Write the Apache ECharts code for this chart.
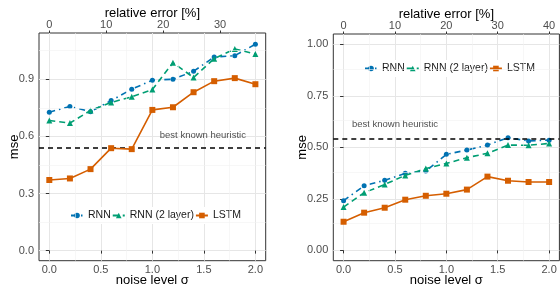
<!DOCTYPE html>
<html>
<head>
<meta charset="utf-8">
<script src="https://cdn.jsdelivr.net/npm/echarts@6/dist/echarts.min.js"></script>
<style>
html,body{margin:0;padding:0;background:#fff;}
#c{width:560px;height:285px;}
</style>
</head>
<body>
<div id="c"></div>
<script>
// ---- data ----
var noise = [0.0, 0.2, 0.4, 0.6, 0.8, 1.0, 1.2, 1.4, 1.6, 1.8, 2.0];
var seriesNames = ['RNN', 'RNN (2 layer)', 'LSTM'];
// left panel
var leftRNN   = [0.727, 0.757, 0.730, 0.788, 0.848, 0.895, 0.900, 0.942, 1.017, 1.024, 1.084];
var leftRNN2  = [0.683, 0.670, 0.736, 0.778, 0.808, 0.846, 0.987, 0.909, 1.008, 1.059, 1.033];
var leftLSTM  = [0.371, 0.379, 0.428, 0.538, 0.533, 0.739, 0.753, 0.832, 0.890, 0.906, 0.874];
var leftHeuristic = 0.544;
// right panel
var rightRNN  = [0.241, 0.314, 0.340, 0.374, 0.385, 0.466, 0.487, 0.511, 0.547, 0.531, 0.535];
var rightRNN2 = [0.210, 0.280, 0.320, 0.364, 0.397, 0.422, 0.450, 0.471, 0.511, 0.510, 0.519];
var rightLSTM = [0.139, 0.183, 0.207, 0.246, 0.265, 0.275, 0.295, 0.358, 0.338, 0.332, 0.332];
var rightHeuristic = 0.544;
// tick labels
var noiseTicks = [0, 0.5, 1.0, 1.5, 2.0];
var noiseMinor = [0.25, 0.75, 1.25, 1.75];
var leftYTicks = [0, 0.3, 0.6, 0.9];
var leftYMinor = [0.15, 0.45, 0.75, 1.05];
var rightYTicks = [0, 0.25, 0.5, 0.75, 1.0];
var rightYMinor = [0.125, 0.375, 0.625, 0.875];
var leftRelTicks = [0, 10, 20, 30];
var rightRelTicks = [0, 10, 20, 30, 40];
var heuristicText = 'best known heuristic';

// ---- styling ----
var FONT = '"Liberation Sans", Arial, Helvetica, sans-serif';
var COLORS = ['#0072B2', '#009E73', '#D55E00'];
var SYMBOLS = ['circle', 'triangle', 'rect'];
var SIZES = [5, 6, 6];
var DASH = [[6, 4, 1.5, 4], [6, 4], 'solid'];

function zip(xs, ys) { return xs.map(function (x, i) { return [x, ys[i]]; }); }

var leftRelMin = -0.1 * 18.1, leftRelMax = 2.1 * 18.1;
var rightRelMin = -2, rightRelMax = 42;

function bottomAxis(grid) {
  return {
    type: 'value', gridIndex: grid, position: 'bottom', min: -0.1, max: 2.1,
    name: 'noise level σ', nameLocation: 'middle', nameGap: 13, nameMoveOverlap: false,
    nameTextStyle: { fontFamily: FONT, fontSize: 13, color: '#000' },
    axisLine: { show: false },
    axisTick: { show: true, length: 3, lineStyle: { color: '#333' }, customValues: noiseTicks },
    axisLabel: { customValues: noiseTicks, margin: 4, fontFamily: FONT, fontSize: 11, color: '#4d4d4d',
      formatter: function (v) { return v.toFixed(1); } },
    splitLine: { show: true, lineStyle: { color: '#e6e6e6', width: 1 } }
  };
}
function topAxis(grid, mn, mx, ticks) {
  return {
    type: 'value', gridIndex: grid, position: 'top', min: mn, max: mx,
    name: 'relative error [%]', nameLocation: 'middle', nameGap: 13, nameMoveOverlap: false,
    nameTextStyle: { fontFamily: FONT, fontSize: 13, color: '#000' },
    axisLine: { show: false },
    axisTick: { show: true, length: 2.5, lineStyle: { color: '#333' }, customValues: ticks },
    axisLabel: { customValues: ticks, margin: 3, fontFamily: FONT, fontSize: 11, color: '#4d4d4d',
      formatter: function (v) { return String(Math.round(v)); } },
    splitLine: { show: false }
  };
}
function leftAxis(grid, mn, mx, ticks, dec, gap) {
  return {
    type: 'value', gridIndex: grid, min: mn, max: mx,
    name: 'mse', nameLocation: 'middle', nameGap: gap, nameRotate: 90, nameMoveOverlap: false,
    nameTextStyle: { fontFamily: FONT, fontSize: 13, color: '#000' },
    axisLine: { show: false },
    axisTick: { show: true, length: 3.5, lineStyle: { color: '#333' }, customValues: ticks },
    axisLabel: { customValues: ticks, margin: 5, fontFamily: FONT, fontSize: 11, color: '#4d4d4d',
      formatter: function (v) { return v.toFixed(dec); } },
    splitLine: { show: true, lineStyle: { color: '#e6e6e6', width: 1 } }
  };
}

function minorLines(xi, yi, xs, ys) {
  var data = [];
  xs.forEach(function (v) { data.push({ xAxis: v }); });
  ys.forEach(function (v) { data.push({ yAxis: v }); });
  return {
    type: 'line', xAxisIndex: xi, yAxisIndex: yi, data: [], silent: true, z: 0,
    markLine: { silent: true, symbol: 'none', label: { show: false },
      lineStyle: { color: '#f2f2f2', width: 0.6, type: 'solid' }, animation: false, data: data }
  };
}

function panelSeries(xi, yi, arrs, heur, labelPos) {
  var out = arrs.map(function (ys, k) {
    return {
      name: seriesNames[k], type: 'line', xAxisIndex: xi, yAxisIndex: yi,
      data: zip(noise, ys), symbol: SYMBOLS[k], symbolSize: SIZES[k], showSymbol: true,
      itemStyle: { color: COLORS[k] },
      lineStyle: { color: COLORS[k], width: 1.6, type: DASH[k] },
      z: 3 + k, animation: false
    };
  });
  out.push({
    name: 'heuristic', type: 'line', xAxisIndex: xi, yAxisIndex: yi, data: [], z: 2,
    markLine: { silent: true, symbol: 'none', label: { show: false }, animation: false,
      lineStyle: { color: '#000', width: 1.5, type: [5, 4] }, data: [{ yAxis: heur }] }
  });
  out.push({
    name: 'heuristicLabel', type: 'scatter', xAxisIndex: xi, yAxisIndex: yi,
    data: [labelPos], symbolSize: 0.1, itemStyle: { color: 'transparent' }, silent: true,
    label: { show: true, position: 'inside', formatter: heuristicText,
      fontFamily: FONT, fontSize: 9.5, color: '#1a1a1a' }, animation: false
  });
  return out;
}

var legendBase = {
  data: seriesNames, orient: 'horizontal', itemWidth: 12, itemHeight: 7, itemGap: 1,
  backgroundColor: '#fff', padding: [3, 4], selectedMode: false,
  textStyle: { fontFamily: FONT, fontSize: 10.5, color: '#1a1a1a' }
};

var option = {
  backgroundColor: '#fff',
  animation: false,
  grid: [
    { left: 39, right: 294.3, top: 33, bottom: 24.3, show: true, borderColor: '#333', borderWidth: 1, backgroundColor: '#fff', outerBoundsMode: 'none', containLabel: false },
    { left: 333.3, right: 0.6, top: 34, bottom: 24.3, show: true, borderColor: '#333', borderWidth: 1, backgroundColor: '#fff', outerBoundsMode: 'none', containLabel: false }
  ],
  xAxis: [
    bottomAxis(0), topAxis(0, leftRelMin, leftRelMax, leftRelTicks),
    bottomAxis(1), topAxis(1, rightRelMin, rightRelMax, rightRelTicks)
  ],
  yAxis: [
    leftAxis(0, -0.053, 1.143, leftYTicks, 1, 18),
    leftAxis(1, -0.05, 1.05, rightYTicks, 2, 24)
  ],
  legend: [
    Object.assign({}, legendBase, { left: 66, top: 207 }),
    Object.assign({}, legendBase, { left: 360, top: 60 })
  ],
  series: [].concat(
    [minorLines(0, 0, noiseMinor, leftYMinor)],
    panelSeries(0, 0, [leftRNN, leftRNN2, leftLSTM], leftHeuristic, [1.49, 0.605]),
    [minorLines(2, 1, noiseMinor, rightYMinor)],
    panelSeries(2, 1, [rightRNN, rightRNN2, rightLSTM], rightHeuristic, [0.5, 0.612])
  )
};

var chart = echarts.init(document.getElementById('c'), null, { renderer: 'canvas' });
chart.setOption(option);
</script>
</body>
</html>
